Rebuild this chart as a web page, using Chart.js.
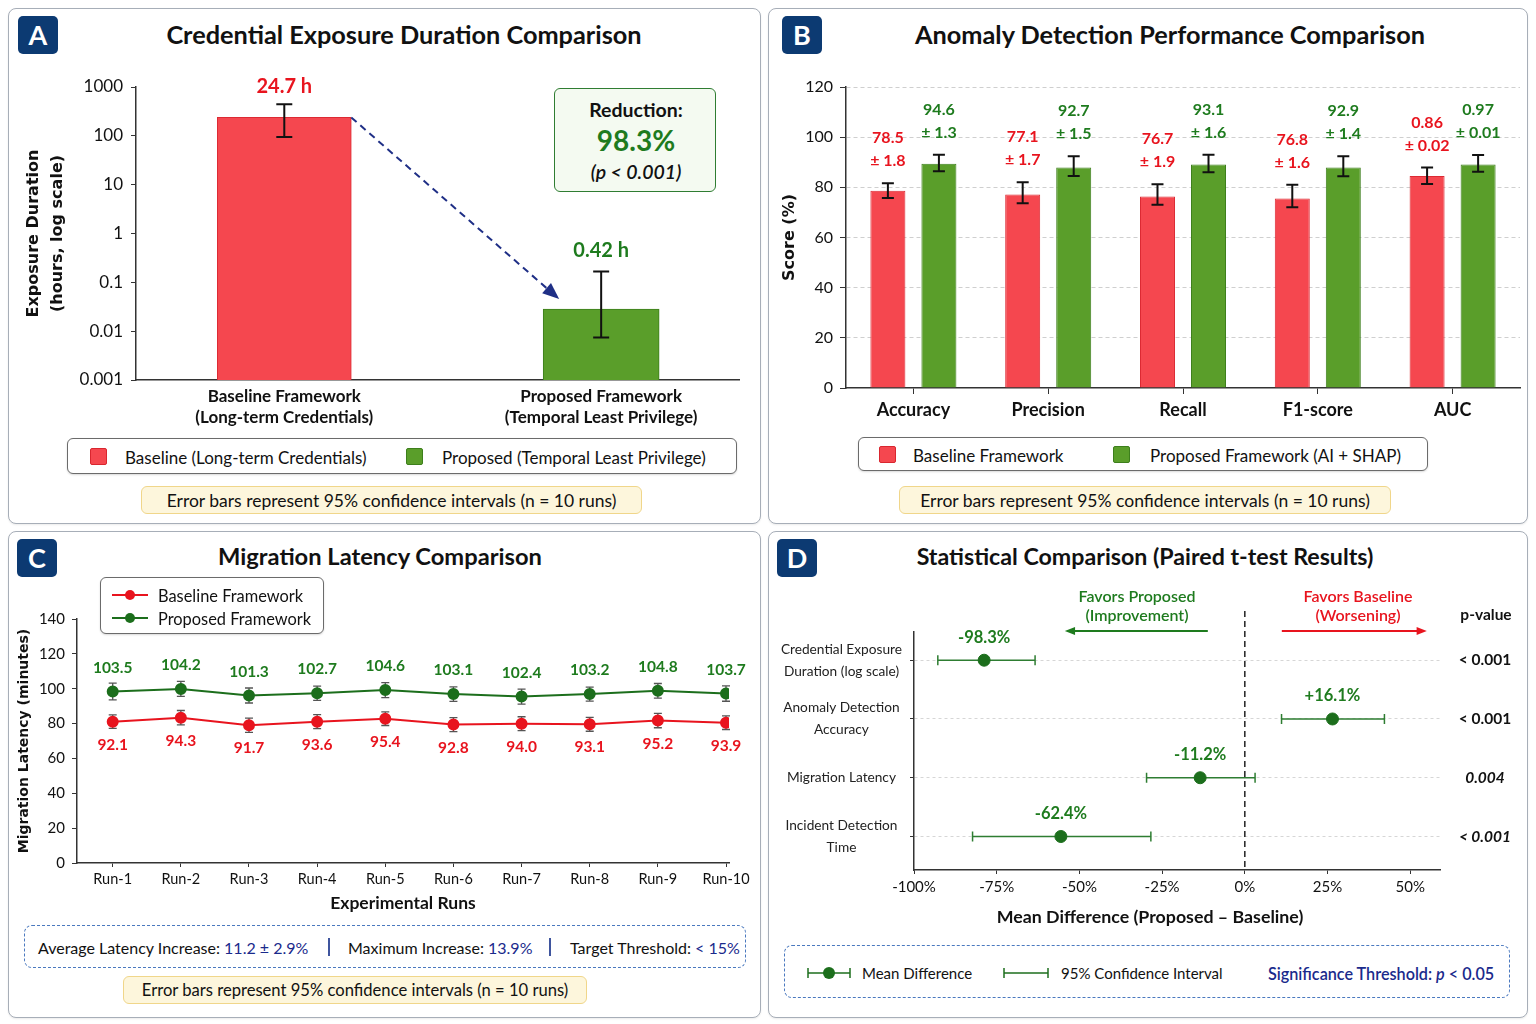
<!DOCTYPE html>
<html lang="en">
<head>
<meta charset="UTF-8">
<title>Framework Evaluation Results</title>
<script src="https://cdn.jsdelivr.net/npm/chart.js"></script>
<style>
  html, body { margin: 0; padding: 0; background: #ffffff; }
  body { font-family: Lato, "Open Sans", sans-serif; color: #111; }
  #page { position: relative; width: 1536px; height: 1024px; overflow: hidden; }
  .panel { position: absolute; box-sizing: border-box; border: 1.5px solid #a7aeb8; border-radius: 8px; background: #fff; box-shadow: 0 1px 2px rgba(0,0,0,0.08); }
  .badge { position: absolute; width: 40px; height: 38px; border-radius: 5px; background: #0c3a72; color: #fff; font-weight: bold; font-size: 27px; text-align: center; line-height: 38px; }
  .title { position: absolute; font-weight: bold; font-size: 23px; white-space: nowrap; transform: translate(-50%, -50%); }
  .ctext { position: absolute; white-space: nowrap; transform: translate(-50%, -50%); }
  .ltext { position: absolute; white-space: nowrap; transform: translateY(-50%); }
  .legend { position: absolute; box-sizing: border-box; border: 1.5px solid #6b6b6b; border-radius: 6px; background: #fff; box-shadow: 0 1px 2px rgba(0,0,0,0.15); }
  .swatch { position: absolute; width: 17px; height: 17px; border-radius: 2px; box-sizing: border-box; }
  .note { position: absolute; box-sizing: border-box; background: #fdf6dc; border: 1.5px solid #f0d68a; border-radius: 6px; font-size: 17.5px; display: flex; align-items: center; justify-content: center; white-space: nowrap; }
  .dashbox { position: absolute; box-sizing: border-box; border: 1.5px dashed #4a79bf; border-radius: 8px; background: #fff; }
  .navy { color: #1a2a8c; }
  .sep { position: absolute; width: 1.5px; height: 18px; background: #3f559e; }
  canvas { position: absolute; }
</style>
</head>
<body>
<div id="page">
  <div class="panel" style="left:8px;top:8px;width:753px;height:516px;"></div>
  <div class="panel" style="left:768px;top:8px;width:760px;height:516px;"></div>
  <div class="panel" style="left:8px;top:531px;width:753px;height:487px;"></div>
  <div class="panel" style="left:768px;top:531px;width:760px;height:487px;"></div>

  <div class="badge" style="left:18px;top:16px;">A</div>
  <div class="badge" style="left:782px;top:16px;">B</div>
  <div class="badge" style="left:17px;top:539px;">C</div>
  <div class="badge" style="left:777px;top:539px;">D</div>

  <div class="title" style="left:404px;top:34px;font-size:25.3px;">Credential Exposure Duration Comparison</div>
  <div class="title" style="left:1170px;top:34px;font-size:25.3px;">Anomaly Detection Performance Comparison</div>
  <div class="title" style="left:380px;top:556px;font-size:23.7px;">Migration Latency Comparison</div>
  <div class="title" style="left:1145px;top:556px;font-size:23.2px;">Statistical Comparison (Paired t-test Results)</div>

  <canvas id="chartA" width="753" height="370" style="left:8px;top:60px;"></canvas>
  <canvas id="chartB" width="760" height="370" style="left:768px;top:60px;"></canvas>
  <canvas id="chartC" width="753" height="335" style="left:8px;top:590px;"></canvas>
  <canvas id="chartD" width="760" height="340" style="left:768px;top:590px;"></canvas>

  <!-- panel A extras -->
  <div class="legend" style="left:554px;top:88px;width:162px;height:104px;background:#f4faf1;border-color:#2f7d32;box-shadow:none;">
    <div class="ctext" style="left:81px;top:20px;font-size:19.5px;font-weight:bold;">Reduction:</div>
    <div class="ctext" style="left:81px;top:51px;font-size:28px;font-weight:bold;color:#1e7b1e;">98.3%</div>
    <div class="ctext" style="left:81px;top:82px;font-size:19.5px;font-style:italic;font-weight:600;">(p &lt; 0.001)</div>
  </div>
  <div class="legend" style="left:67px;top:438px;width:670px;height:36px;">
    <div class="swatch" style="left:22px;top:9px;background:#f5474f;border:1px solid #d9262f;"></div>
    <div class="ltext" style="left:57px;top:18px;font-size:17px;">Baseline (Long-term Credentials)</div>
    <div class="swatch" style="left:338px;top:9px;background:#5a9e2a;border:1px solid #3d7f1c;"></div>
    <div class="ltext" style="left:374px;top:18px;font-size:17px;">Proposed (Temporal Least Privilege)</div>
  </div>
  <div class="note" style="left:141px;top:486px;width:501px;height:28px;">Error bars represent 95% confidence intervals (n = 10 runs)</div>

  <!-- panel B extras -->
  <div class="legend" style="left:858px;top:437px;width:570px;height:34px;">
    <div class="swatch" style="left:20px;top:8px;background:#f5474f;border:1px solid #d9262f;"></div>
    <div class="ltext" style="left:54px;top:17px;font-size:17px;">Baseline Framework</div>
    <div class="swatch" style="left:254px;top:8px;background:#5a9e2a;border:1px solid #3d7f1c;"></div>
    <div class="ltext" style="left:291px;top:17px;font-size:17px;">Proposed Framework (AI + SHAP)</div>
  </div>
  <div class="note" style="left:899px;top:486px;width:492px;height:28px;">Error bars represent 95% confidence intervals (n = 10 runs)</div>

  <!-- panel C extras -->
  <div class="legend" style="left:100px;top:577px;width:224px;height:57px;">
    <svg style="position:absolute;left:11px;top:11px;" width="36" height="12"><line x1="0" y1="6" x2="36" y2="6" stroke="#e8141e" stroke-width="2"/><circle cx="18" cy="6" r="5" fill="#e8141e"/></svg>
    <div class="ltext" style="left:57px;top:17px;font-size:16.4px;">Baseline Framework</div>
    <svg style="position:absolute;left:11px;top:34px;" width="36" height="12"><line x1="0" y1="6" x2="36" y2="6" stroke="#1c6e1c" stroke-width="2"/><circle cx="18" cy="6" r="5" fill="#1c6e1c"/></svg>
    <div class="ltext" style="left:57px;top:40px;font-size:16.4px;">Proposed Framework</div>
  </div>
  <div class="dashbox" style="left:24px;top:925px;width:722px;height:43px;font-size:16px;">
    <div class="ltext" style="left:13px;top:21px;">Average Latency Increase: <span class="navy">11.2 ± 2.9%</span></div>
    <div class="sep" style="left:303px;top:12px;"></div>
    <div class="ltext" style="left:323px;top:21px;">Maximum Increase: <span class="navy">13.9%</span></div>
    <div class="sep" style="left:524px;top:12px;"></div>
    <div class="ltext" style="left:545px;top:21px;">Target Threshold: <span class="navy">&lt; 15%</span></div>
  </div>
  <div class="note" style="left:123px;top:976px;width:464px;height:28px;font-size:16.6px;">Error bars represent 95% confidence intervals (n = 10 runs)</div>

  <!-- panel D extras -->
  <div class="ctext" style="left:1137px;top:595px;font-size:16px;font-weight:600;color:#1e7b1e;">Favors Proposed</div>
  <div class="ctext" style="left:1137px;top:614px;font-size:16px;font-weight:600;color:#1e7b1e;">(Improvement)</div>
  <div class="ctext" style="left:1358px;top:595px;font-size:16px;font-weight:600;color:#e8141e;">Favors Baseline</div>
  <div class="ctext" style="left:1358px;top:614px;font-size:16px;font-weight:600;color:#e8141e;">(Worsening)</div>
  <div class="ctext" style="left:1486px;top:614px;font-size:15.5px;font-weight:bold;">p-value</div>
  <div class="ctext" style="left:1150px;top:916px;font-size:17.8px;font-weight:bold;">Mean Difference (Proposed &ndash; Baseline)</div>
  <div class="dashbox" style="left:784px;top:945px;width:726px;height:53px;font-size:15px;">
    <svg style="position:absolute;left:22px;top:20px;" width="44" height="14"><line x1="1" y1="7" x2="43" y2="7" stroke="#1c6e1c" stroke-width="1.5"/><line x1="1" y1="2" x2="1" y2="12" stroke="#1c6e1c" stroke-width="1.5"/><line x1="43" y1="2" x2="43" y2="12" stroke="#1c6e1c" stroke-width="1.5"/><circle cx="22" cy="7" r="6" fill="#1c6e1c"/></svg>
    <div class="ltext" style="left:77px;top:27px;">Mean Difference</div>
    <svg style="position:absolute;left:218px;top:20px;" width="46" height="14"><line x1="1" y1="7" x2="45" y2="7" stroke="#1c6e1c" stroke-width="1.5"/><line x1="1" y1="2" x2="1" y2="12" stroke="#1c6e1c" stroke-width="1.5"/><line x1="45" y1="2" x2="45" y2="12" stroke="#1c6e1c" stroke-width="1.5"/></svg>
    <div class="ltext" style="left:276px;top:27px;">95% Confidence Interval</div>
    <div class="ltext navy" style="left:483px;top:27px;font-weight:600;font-size:16.2px;">Significance Threshold: <i>p</i> &lt; 0.05</div>
  </div>
</div>

<script>
// Panel A - credential exposure (log scale)
const aCategories = [['Baseline Framework', '(Long-term Credentials)'],
                     ['Proposed Framework', '(Temporal Least Privilege)']];
const aValues = [238, 0.0283];
const aErrLow = [95, 0.0074];
const aErrHigh = [441, 0.166];
const aLabels = ['24.7 h', '0.42 h'];
const aYTicks = [0.001, 0.01, 0.1, 1, 10, 100, 1000];

// Panel B - anomaly detection scores
const bCategories = ['Accuracy', 'Precision', 'Recall', 'F1-score', 'AUC'];
const bBaseline = [78.6, 77.1, 76.3, 75.5, 84.5];
const bBaselineLow = [75.7, 73.7, 73.1, 72.1, 81.3];
const bBaselineHigh = [81.6, 82.0, 81.2, 81.0, 87.9];
const bProposed = [89.4, 87.9, 89.1, 87.9, 89.1];
const bProposedLow = [86.4, 84.5, 86.0, 84.4, 86.2];
const bProposedHigh = [93.0, 92.4, 93.0, 92.4, 92.9];
const bBaselineText = [['78.5', '± 1.8'], ['77.1', '± 1.7'], ['76.7', '± 1.9'], ['76.8', '± 1.6'], ['0.86', '± 0.02']];
const bProposedText = [['94.6', '± 1.3'], ['92.7', '± 1.5'], ['93.1', '± 1.6'], ['92.9', '± 1.4'], ['0.97', '± 0.01']];

// Panel C - migration latency per run
const cRuns = ['Run-1', 'Run-2', 'Run-3', 'Run-4', 'Run-5', 'Run-6', 'Run-7', 'Run-8', 'Run-9', 'Run-10'];
const cBaseline = [81.1, 83.4, 79.0, 81.1, 82.8, 79.4, 79.9, 79.6, 81.7, 80.5];
const cBaselineErr = [3.9, 4.1, 4.1, 4.0, 3.9, 4.0, 4.0, 4.0, 4.1, 3.9];
const cProposed = [98.4, 99.9, 96.1, 97.4, 99.2, 96.9, 95.5, 96.9, 98.8, 97.2];
const cProposedErr = [4.8, 4.3, 4.3, 4.1, 4.3, 4.2, 4.3, 4.0, 4.2, 4.4];
const cBaselineText = ['92.1', '94.3', '91.7', '93.6', '95.4', '92.8', '94.0', '93.1', '95.2', '93.9'];
const cProposedText = ['103.5', '104.2', '101.3', '102.7', '104.6', '103.1', '102.4', '103.2', '104.8', '103.7'];

// Panel D - paired t-test summary
const dRows = [['Credential Exposure', 'Duration (log scale)'], ['Anomaly Detection', 'Accuracy'],
               'Migration Latency', ['Incident Detection', 'Time']];
const dMeans = [-78.8, 26.5, -13.5, -55.6];
const dCiLow = [-92.8, 11.1, -29.7, -82.3];
const dCiHigh = [-63.4, 42.2, 3.1, -28.4];
const dText = ['-98.3%', '+16.1%', '-11.2%', '-62.4%'];
const dPValues = ['< 0.001', '< 0.001', '0.004', '< 0.001'];
const dXTicks = [-100, -75, -50, -25, 0, 25, 50];

const RED = '#e8141e';
const GREEN = '#1e7b1e';
const DARK_GREEN = '#1c6e1c';
const RED_FILL = '#f5474f';
const GREEN_FILL = '#5a9e2a';
const AXIS = '#333';
const FONT = 'Lato, "Open Sans", sans-serif';

// error bars, vertical by default, horizontal when errAxis is 'x'
function drawErrors(chart, behind) {
    const ctx = chart.ctx;
    chart.data.datasets.forEach(function(ds, i) {
        if (!ds.errLow || !!ds.errBehind !== behind) return;
        const meta = chart.getDatasetMeta(i);
        ctx.save();
        ctx.strokeStyle = ds.errColor || '#111';
        ctx.lineWidth = ds.errWidth || 2;
        const cap = ds.errCap || 6;
        meta.data.forEach(function(el, j) {
            ctx.beginPath();
            if (ds.errAxis === 'x') {
                const lo = chart.scales.x.getPixelForValue(ds.errLow[j]);
                const hi = chart.scales.x.getPixelForValue(ds.errHigh[j]);
                ctx.moveTo(lo, el.y); ctx.lineTo(hi, el.y);
                ctx.moveTo(lo, el.y - cap); ctx.lineTo(lo, el.y + cap);
                ctx.moveTo(hi, el.y - cap); ctx.lineTo(hi, el.y + cap);
            } else {
                const ys = chart.scales[meta.vAxisID];
                const lo = ys.getPixelForValue(ds.errLow[j]);
                const hi = ys.getPixelForValue(ds.errHigh[j]);
                ctx.moveTo(el.x, lo); ctx.lineTo(el.x, hi);
                ctx.moveTo(el.x - cap, lo); ctx.lineTo(el.x + cap, lo);
                ctx.moveTo(el.x - cap, hi); ctx.lineTo(el.x + cap, hi);
            }
            ctx.stroke();
        });
        ctx.restore();
    });
}

const errorBars = {
    id: 'errorBars',
    beforeDatasetsDraw: function(chart) { drawErrors(chart, true); },
    afterDatasetsDraw: function(chart) { drawErrors(chart, false); }
};

// value text above/below marks
const valueText = {
    id: 'valueText',
    afterDatasetsDraw: function(chart) {
        const ctx = chart.ctx;
        chart.data.datasets.forEach(function(ds, i) {
            if (!ds.valueText) return;
            const meta = chart.getDatasetMeta(i);
            meta.data.forEach(function(el, j) {
                let lines = ds.valueText[j];
                if (!Array.isArray(lines)) lines = [lines];
                const anchor = ds.textAnchor === 'err'
                    ? chart.scales[meta.vAxisID].getPixelForValue(ds.errHigh[j]) : el.y;
                ctx.save();
                ctx.font = ds.textFont;
                ctx.fillStyle = ds.textColor;
                ctx.textAlign = 'center';
                ctx.textBaseline = 'middle';
                lines.forEach(function(t, k) {
                    ctx.fillText(t, el.x, anchor + ds.textOffset - (lines.length - 1 - k) * (ds.textGap || 0));
                });
                ctx.restore();
            });
        });
    }
};

function arrow(ctx, x1, y1, x2, y2, color, dash, head) {
    const ang = Math.atan2(y2 - y1, x2 - x1);
    ctx.save();
    ctx.strokeStyle = color;
    ctx.fillStyle = color;
    ctx.lineWidth = 2;
    ctx.setLineDash(dash);
    ctx.beginPath();
    ctx.moveTo(x1, y1);
    ctx.lineTo(x2 - Math.cos(ang) * head * 0.8, y2 - Math.sin(ang) * head * 0.8);
    ctx.stroke();
    ctx.setLineDash([]);
    ctx.beginPath();
    ctx.moveTo(x2, y2);
    ctx.lineTo(x2 - head * Math.cos(ang - 0.38), y2 - head * Math.sin(ang - 0.38));
    ctx.lineTo(x2 - head * Math.cos(ang + 0.38), y2 - head * Math.sin(ang + 0.38));
    ctx.closePath();
    ctx.fill();
    ctx.restore();
}

// dashed arrow from the baseline bar to the proposed bar
const trendArrow = {
    id: 'trendArrow',
    afterDatasetsDraw: function(chart) {
        const from = chart.getDatasetMeta(0).data[0];
        const to = chart.getDatasetMeta(1).data[0];
        arrow(chart.ctx, from.x + from.width / 2, from.y, to.x - to.width / 2 + 16, to.y - 10, '#1f2f86', [7, 5], 18);
    }
};

// zero line, direction arrows and p-values for the forest plot
const forestDecor = {
    id: 'forestDecor',
    beforeDatasetsDraw: function(chart) {
        const ctx = chart.ctx;
        const area = chart.chartArea;
        const x0 = chart.scales.x.getPixelForValue(0);
        ctx.save();
        ctx.setLineDash([6, 4]);
        ctx.strokeStyle = '#222';
        ctx.lineWidth = 1.5;
        ctx.beginPath();
        ctx.moveTo(x0, area.top - 21);
        ctx.lineTo(x0, area.bottom);
        ctx.stroke();
        ctx.restore();
        arrow(ctx, x0 - 37, area.top - 1, x0 - 180, area.top - 1, GREEN, [], 11);
        arrow(ctx, x0 + 37, area.top - 1, x0 + 182, area.top - 1, RED, [], 11);
    },
    afterDatasetsDraw: function(chart, args, opts) {
        const ctx = chart.ctx;
        const y = chart.scales.y;
        const px = chart.chartArea.right + 45;
        ctx.save();
        ctx.fillStyle = '#111';
        ctx.textAlign = 'center';
        ctx.textBaseline = 'middle';
        dPValues.forEach(function(p, i) {
            ctx.font = opts.styles[i] + ' bold 15.5px ' + FONT;
            ctx.fillText(p, px, y.getPixelForValue(i));
        });
        ctx.restore();
    }
};

function fixedWidth(w) { return function(s) { s.width = w; }; }
function fixedHeight(h) { return function(s) { s.height = h; }; }

// ---------- A ----------
new Chart(document.getElementById('chartA'), {
    type: 'bar',
    data: {
        datasets: [{
            label: 'Baseline (Long-term Credentials)',
            data: [{ x: 0, y: aValues[0] }],
            backgroundColor: RED_FILL, borderColor: '#dc2a33', borderWidth: 1,
            barThickness: 134, grouped: false,
            errLow: [aErrLow[0]], errHigh: [aErrHigh[0]], errCap: 8,
            valueText: [aLabels[0]], textAnchor: 'err', textOffset: -18,
            textFont: 'bold 20px ' + FONT, textColor: RED
        }, {
            label: 'Proposed (Temporal Least Privilege)',
            data: [{ x: 1, y: aValues[1] }],
            backgroundColor: GREEN_FILL, borderColor: '#3d7f1c', borderWidth: 1,
            barThickness: 116, grouped: false,
            errLow: [aErrLow[1]], errHigh: [aErrHigh[1]], errCap: 8,
            valueText: [aLabels[1]], textAnchor: 'err', textOffset: -21,
            textFont: 'bold 20px ' + FONT, textColor: GREEN
        }]
    },
    options: {
        responsive: false,
        animation: false,
        layout: { padding: { top: 27, right: 22 } },
        plugins: { legend: { display: false }, tooltip: { enabled: false } },
        scales: {
            x: {
                type: 'linear', min: -0.468, max: 1.435, offset: false,
                afterBuildTicks: function(ax) { ax.ticks = aCategories.map(function(c, i) { return { value: i }; }); },
                afterFit: fixedHeight(50),
                ticks: { callback: function(v) { return aCategories[v]; }, color: '#111', padding: 6, maxRotation: 0,
                         font: { family: FONT, size: 17, weight: 'bold', lineHeight: 1.25 } },
                grid: { display: false, drawTicks: false },
                border: { color: AXIS, width: 1.5 }
            },
            y: {
                type: 'logarithmic', min: 0.001, max: 1000,
                afterBuildTicks: function(ax) { ax.ticks = aYTicks.map(function(v) { return { value: v }; }); },
                afterFit: fixedWidth(128),
                ticks: { callback: function(v) { return String(v); }, color: '#111', padding: 8,
                         font: { family: FONT, size: 17 } },
                grid: { drawOnChartArea: false, tickLength: 5, color: AXIS },
                border: { color: AXIS, width: 1.5 },
                title: { display: true, text: ['Exposure Duration', '(hours, log scale)'], color: '#111',
                         font: { family: 'DejaVu Sans', size: 16, weight: 'bold', lineHeight: 1.55 },
                         padding: { top: 13, bottom: 0 } }
            }
        }
    },
    plugins: [errorBars, valueText, trendArrow]
});

// ---------- B ----------
new Chart(document.getElementById('chartB'), {
    type: 'bar',
    data: {
        labels: bCategories,
        datasets: [{
            label: 'Baseline Framework',
            data: bBaseline,
            backgroundColor: RED_FILL, borderColor: '#dc2a33', borderWidth: 1,
            categoryPercentage: 0.757, barPercentage: 0.686,
            errLow: bBaselineLow, errHigh: bBaselineHigh, errCap: 6,
            valueText: bBaselineText, textAnchor: 'err', textOffset: -22, textGap: 23,
            textFont: 'bold 16px ' + FONT, textColor: RED
        }, {
            label: 'Proposed Framework (AI + SHAP)',
            data: bProposed,
            backgroundColor: GREEN_FILL, borderColor: '#3d7f1c', borderWidth: 1,
            categoryPercentage: 0.757, barPercentage: 0.686,
            errLow: bProposedLow, errHigh: bProposedHigh, errCap: 6,
            valueText: bProposedText, textAnchor: 'err', textOffset: -22, textGap: 23,
            textFont: 'bold 16px ' + FONT, textColor: GREEN
        }]
    },
    options: {
        responsive: false,
        animation: false,
        layout: { padding: { top: 27, right: 8 } },
        plugins: { legend: { display: false }, tooltip: { enabled: false } },
        scales: {
            x: {
                afterFit: fixedHeight(42),
                ticks: { color: '#111', padding: 5, font: { family: FONT, size: 18, weight: 'bold' } },
                grid: { drawOnChartArea: false, offset: false, tickLength: 6, color: AXIS },
                border: { color: AXIS, width: 1.5 }
            },
            y: {
                min: 0, max: 120,
                afterFit: fixedWidth(78),
                ticks: { stepSize: 20, color: '#111', padding: 7, font: { family: FONT, size: 16 } },
                grid: { color: function(c) { return c.tick && c.tick.value === 0 ? 'rgba(0,0,0,0)' : '#cfcfcf'; },
                        tickColor: AXIS, tickLength: 6 },
                border: { color: AXIS, width: 1.5, dash: [4, 3] },
                title: { display: true, text: 'Score (%)', color: '#111',
                         font: { family: 'DejaVu Sans', size: 16, weight: 'bold' },
                         padding: { top: 12, bottom: 0 } }
            }
        }
    },
    plugins: [errorBars, valueText]
});

// ---------- C ----------
new Chart(document.getElementById('chartC'), {
    type: 'line',
    data: {
        datasets: [{
            label: 'Baseline Framework',
            data: cBaseline.map(function(v, i) { return { x: i + 1, y: v }; }),
            borderColor: RED, backgroundColor: RED, borderWidth: 2, pointRadius: 5, tension: 0,
            errLow: cBaseline.map(function(v, i) { return v - cBaselineErr[i]; }),
            errHigh: cBaseline.map(function(v, i) { return v + cBaselineErr[i]; }),
            errBehind: true, errColor: '#555', errWidth: 1.3, errCap: 4,
            valueText: cBaselineText, textOffset: 23, textFont: 'bold 15.5px ' + FONT, textColor: RED
        }, {
            label: 'Proposed Framework',
            data: cProposed.map(function(v, i) { return { x: i + 1, y: v }; }),
            borderColor: DARK_GREEN, backgroundColor: DARK_GREEN, borderWidth: 2, pointRadius: 5, tension: 0,
            errLow: cProposed.map(function(v, i) { return v - cProposedErr[i]; }),
            errHigh: cProposed.map(function(v, i) { return v + cProposedErr[i]; }),
            errBehind: true, errColor: '#555', errWidth: 1.3, errCap: 4,
            valueText: cProposedText, textOffset: -24, textFont: 'bold 15.5px ' + FONT, textColor: GREEN
        }]
    },
    options: {
        responsive: false,
        animation: false,
        layout: { padding: { top: 29, right: 32 } },
        plugins: { legend: { display: false }, tooltip: { enabled: false } },
        scales: {
            x: {
                type: 'linear', min: 0.476, max: 10.044,
                afterBuildTicks: function(ax) { ax.ticks = cRuns.map(function(r, i) { return { value: i + 1 }; }); },
                afterFit: fixedHeight(62),
                ticks: { callback: function(v) { return cRuns[v - 1]; }, color: '#111', padding: 4, maxRotation: 0,
                         font: { family: FONT, size: 14.5 } },
                grid: { drawOnChartArea: false, tickLength: 4, color: AXIS },
                border: { color: AXIS, width: 1.5 },
                title: { display: true, text: 'Experimental Runs', color: '#111',
                         font: { family: FONT, size: 17.5, weight: 'bold' }, padding: { top: 0, bottom: 11 } }
            },
            y: {
                min: 0, max: 140,
                afterFit: fixedWidth(69),
                ticks: { stepSize: 20, color: '#111', padding: 7, font: { family: FONT, size: 15 } },
                grid: { drawOnChartArea: false, tickLength: 5, color: AXIS },
                border: { color: AXIS, width: 1.5 },
                title: { display: true, text: 'Migration Latency (minutes)', color: '#111',
                         font: { family: 'DejaVu Sans', size: 14, weight: 'bold' },
                         padding: { top: 8, bottom: 0 } }
            }
        }
    },
    plugins: [errorBars, valueText]
});

// ---------- D ----------
new Chart(document.getElementById('chartD'), {
    type: 'scatter',
    data: {
        datasets: [{
            label: 'Mean Difference',
            data: dMeans.map(function(v, i) { return { x: v, y: i }; }),
            backgroundColor: DARK_GREEN, borderColor: DARK_GREEN, pointRadius: 6,
            errAxis: 'x', errLow: dCiLow, errHigh: dCiHigh, errBehind: true,
            errColor: '#2e7d32', errWidth: 1.5, errCap: 5,
            valueText: dText, textOffset: -23, textFont: 'bold 16.5px ' + FONT, textColor: GREEN
        }]
    },
    options: {
        responsive: false,
        animation: false,
        layout: { padding: { top: 42, right: 88 } },
        plugins: { legend: { display: false }, tooltip: { enabled: false },
                   forestDecor: { styles: ['normal', 'normal', 'italic', 'italic'] } },
        scales: {
            x: {
                type: 'linear', min: -100, max: 59,
                afterBuildTicks: function(ax) { ax.ticks = dXTicks.map(function(v) { return { value: v }; }); },
                afterFit: fixedHeight(60),
                ticks: { callback: function(v) { return v + '%'; }, color: '#111', padding: 4, maxRotation: 0,
                         font: { family: FONT, size: 15 } },
                grid: { drawOnChartArea: false, tickLength: 4, color: AXIS },
                border: { color: AXIS, width: 1.5 }
            },
            y: {
                type: 'linear', reverse: true, min: -0.48, max: 3.57,
                afterBuildTicks: function(ax) { ax.ticks = dRows.map(function(r, i) { return { value: i }; }); },
                afterFit: fixedWidth(146),
                ticks: { callback: function(v) { return dRows[v]; }, color: '#222', padding: 8, crossAlign: 'center',
                         font: { family: FONT, size: 13.7, lineHeight: 1.6 } },
                grid: { color: '#d6d6d6', tickColor: AXIS, tickLength: 4 },
                border: { color: AXIS, width: 1.5, dash: [3, 3] }
            }
        }
    },
    plugins: [forestDecor, errorBars, valueText]
});
</script>
</body>
</html>
